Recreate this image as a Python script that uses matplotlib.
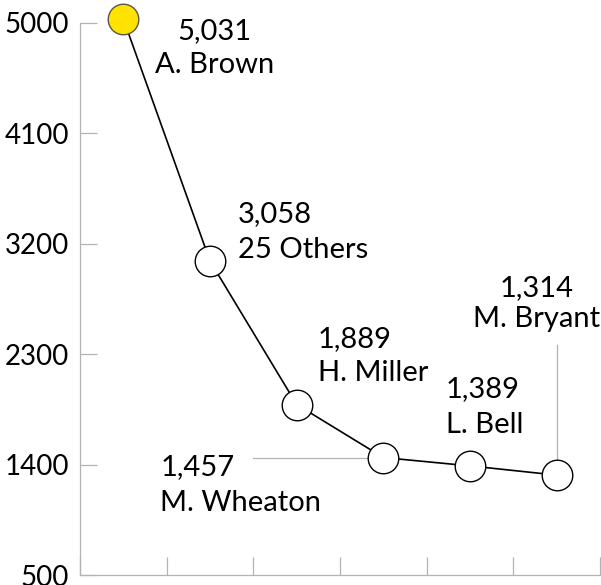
import matplotlib
matplotlib.use("Agg")
import matplotlib.pyplot as plt

# ---- data ----
names = ["A. Brown", "25 Others", "H. Miller", "M. Wheaton", "L. Bell", "M. Bryant"]
values = [5031, 3058, 1889, 1457, 1389, 1314]
yticks = [500, 1400, 2300, 3200, 4100, 5000]

# ---- layout (label offsets in pixels: dx, dy_value, dy_name, ha) ----
label_layout = [
    (91, -20, -54, "center"),
    (28, 39, 3, "left"),
    (21, 57, 24, "left"),
    (-223, -18, -53, "left"),
    (-24, 69, 33, "left"),
    (-20, 179, 148, "center"),
]

plt.rcParams["font.family"] = ["Lato", "DejaVu Sans"]
FS = 21
GREY = "#b3b3b3"

fig = plt.figure(figsize=(6.01, 5.85), dpi=100)
ax = fig.add_axes([80 / 601, 10 / 585, 520 / 601, (575 - 22.7) / 585])

xs = [i + 0.5 for i in range(len(values))]

# leader lines
ax.plot([xs[3] - 1.5, xs[3]], [values[3], values[3]], color=GREY, lw=0.9, zorder=1)
ax.plot([xs[5], xs[5]], [values[5], values[5] + 1060], color=GREY, lw=0.9, zorder=1)

ax.plot(xs, values, color="black", lw=1.2, zorder=2, clip_on=False)
for i, (x, v) in enumerate(zip(xs, values)):
    if i == 0:
        ax.plot(x, v, "o", ms=22, mfc="#ffe200", mec="#555555", mew=1.0,
                zorder=3, clip_on=False)
    else:
        ax.plot(x, v, "o", ms=22, mfc="white", mec="black", mew=1.0,
                zorder=3, clip_on=False)

for i, (x, v, n) in enumerate(zip(xs, values, names)):
    dx, dyv, dyn, ha = label_layout[i]
    ax.annotate(f"{v:,}", (x, v), xytext=(dx, dyv), textcoords="offset pixels",
                ha=ha, va="baseline", fontsize=FS, color="black", zorder=4,
                annotation_clip=False)
    ax.annotate(n, (x, v), xytext=(dx, dyn), textcoords="offset pixels",
                ha=ha, va="baseline", fontsize=FS, color="black", zorder=4,
                annotation_clip=False)

ax.set_xlim(0, 6)
ax.set_ylim(500, 5000)
ax.set_yticks(yticks)
ax.set_yticklabels([str(t) for t in yticks], fontsize=20)
ax.set_xticks(range(0, 7))
ax.set_xticklabels([])
ax.tick_params(axis="y", direction="in", length=12, width=0.9, color=GREY, pad=8)
ax.tick_params(axis="x", direction="in", length=13, width=0.9, color=GREY)
for s in ["top", "right"]:
    ax.spines[s].set_visible(False)
for s in ["left", "bottom"]:
    ax.spines[s].set_color(GREY)
    ax.spines[s].set_linewidth(0.9)

fig.savefig("out.png", dpi=100)
